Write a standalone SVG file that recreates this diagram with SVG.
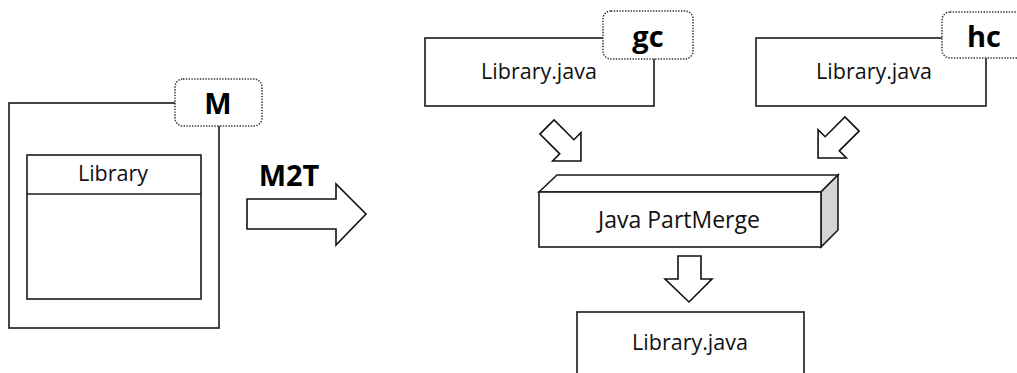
<svg xmlns="http://www.w3.org/2000/svg" width="1017" height="373" viewBox="0 0 1017 373">
  <style>
    .box { fill: #ffffff; stroke: #1a1a1a; stroke-width: 1.6; }
    .tag { fill: #ffffff; stroke: #333333; stroke-width: 1.5; stroke-dasharray: 1.4 1.4; }
    .arrow { fill: #ffffff; stroke: #111111; stroke-width: 1.6; stroke-linejoin: miter; }
    .label { font-family: "Open Sans", "Liberation Sans", sans-serif; font-size: 21.5px; fill: #111111; text-anchor: middle; }
    .tagtext { font-family: "Open Sans", "Liberation Sans", sans-serif; font-size: 29px; font-weight: bold; fill: #000000; text-anchor: middle; }
  </style>
  <defs>
    <!-- block arrow pointing along +x, base at origin -->
    <path id="diagArrow" d="M0,-10 L28,-10 L28,-20 L48,0 L28,20 L28,10 L0,10 Z"/>
  </defs>
  <rect width="1017" height="373" fill="#ffffff"/>

  <!-- model M with class Library -->
  <g id="model">
    <rect class="box" x="9" y="103" width="210" height="225"/>
    <rect class="box" x="27" y="155" width="174" height="144"/>
    <line class="box" x1="27" y1="194" x2="201" y2="194"/>
    <text class="label" x="113" y="181">Library</text>
    <rect class="tag" x="175" y="79" width="87" height="47" rx="8"/>
    <text class="tagtext" x="218" y="114">M</text>
  </g>

  <!-- generated code gc -->
  <g id="gc">
    <rect class="box" x="425" y="38" width="229" height="68"/>
    <text class="label" x="539" y="79">Library.java</text>
    <rect class="tag" x="603" y="11" width="90" height="48" rx="8"/>
    <text class="tagtext" x="648" y="47">gc</text>
  </g>

  <!-- handwritten code hc -->
  <g id="hc">
    <rect class="box" x="756" y="38" width="230" height="68"/>
    <text class="label" x="874" y="79">Library.java</text>
    <rect class="tag" x="942" y="12" width="92" height="46" rx="8"/>
    <text class="tagtext" x="984" y="47">hc</text>
  </g>

  <!-- merge step drawn as a 3D bar -->
  <g id="partmerge">
    <polygon class="box" points="539,192 557,175 838,175 821,192"/>
    <polygon class="box" points="821,192 838,175 838,230 821,247" style="fill:#d4d4d4"/>
    <rect class="box" x="539" y="192" width="282" height="55"/>
    <text class="label" x="679" y="228" style="font-size:23px">Java PartMerge</text>
  </g>

  <!-- merged result -->
  <g id="result">
    <rect class="box" x="577" y="312" width="227" height="70"/>
    <text class="label" x="690" y="350">Library.java</text>
  </g>

  <g id="connectors">
    <!-- M2T transformation -->
    <path class="arrow" d="M247,199 L336,199 L336,184 L366,214 L336,245 L336,229 L247,229 Z"/>
    <text class="tagtext" x="289" y="186">M2T</text>
    <use class="arrow" href="#diagArrow" transform="translate(547,127) rotate(45)"/>
    <use class="arrow" href="#diagArrow" transform="translate(852,124) rotate(135)"/>
    <path class="arrow" d="M678,256 L701,256 L701,279 L712,279 L689,302 L665,279 L678,279 Z"/>
  </g>
</svg>
